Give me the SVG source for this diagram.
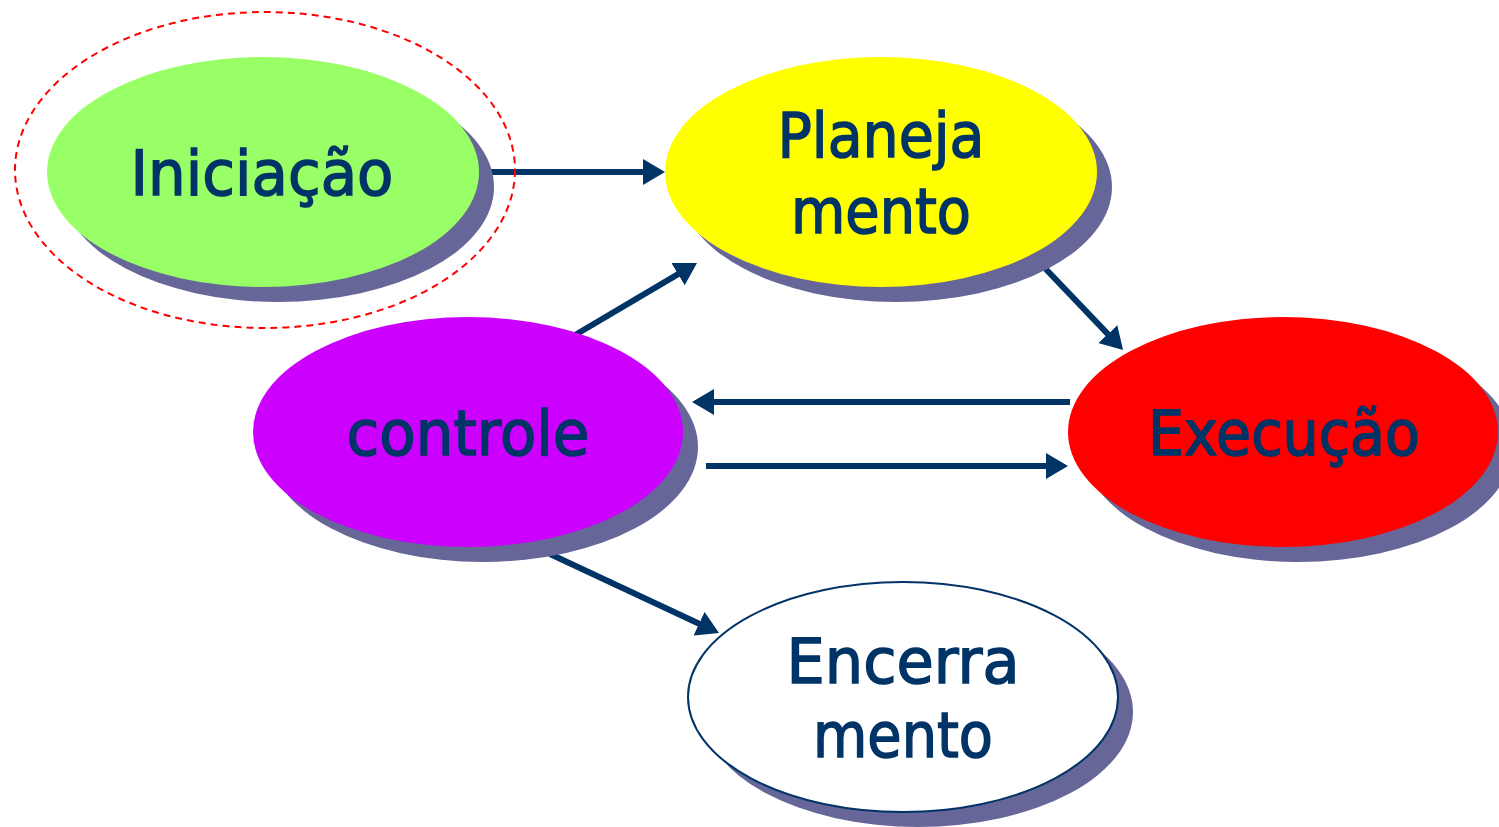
<svg xmlns="http://www.w3.org/2000/svg" width="1499" height="827" viewBox="0 0 1499 827">
  <style>
    .shadow { fill: #666699; }
    .label { font-family: "DejaVu Sans", "Liberation Sans", sans-serif; font-size: 62px; fill: #003366; stroke: #003366; stroke-width: 1.5; text-anchor: middle; }
    .conn { stroke: #003366; stroke-width: 6; fill: none; marker-end: url(#arrow); }
  </style>
  <defs>
    <marker id="arrow" viewBox="0 0 22 26" refX="6" refY="13" markerWidth="22" markerHeight="26" markerUnits="userSpaceOnUse" orient="auto">
      <path d="M0,0 L22,13 L0,26 z" fill="#003366"/>
    </marker>
  </defs>
  <rect width="1499" height="827" fill="#ffffff"/>

  <g id="connectors">
    <line class="conn" x1="480" y1="172" x2="649" y2="172"/>
    <line class="conn" x1="570" y1="338" x2="683.2" y2="271.1"/>
    <line class="conn" x1="1040" y1="263" x2="1112" y2="338.4"/>
    <line class="conn" x1="1070" y1="402" x2="708" y2="402"/>
    <line class="conn" x1="706" y1="466" x2="1052" y2="466"/>
    <line class="conn" x1="550" y1="554" x2="704.5" y2="626.2"/>
  </g>

  <g id="iniciacao">
    <ellipse class="shadow" cx="278" cy="187" rx="216" ry="115"/>
    <ellipse cx="263" cy="172" rx="216" ry="115" fill="#99FF66"/>
    <text class="label" x="262" y="195" textLength="263" lengthAdjust="spacingAndGlyphs">Iniciação</text>
  </g>
  <ellipse id="iniciacao-highlight" cx="265" cy="170" rx="250" ry="158" fill="none" stroke="#FF0000" stroke-width="2" stroke-dasharray="7,5"/>

  <g id="planejamento">
    <ellipse class="shadow" cx="896" cy="187" rx="216" ry="115"/>
    <ellipse cx="881" cy="172" rx="216" ry="115" fill="#FFFF00"/>
    <text class="label" x="881" y="157" textLength="207" lengthAdjust="spacingAndGlyphs">Planeja</text>
    <text class="label" x="881" y="233" textLength="180" lengthAdjust="spacingAndGlyphs">mento</text>
  </g>

  <g id="controle">
    <ellipse class="shadow" cx="483" cy="447" rx="215" ry="115"/>
    <ellipse cx="468" cy="432" rx="215" ry="115" fill="#CC00FF"/>
    <text class="label" x="468" y="455" textLength="243" lengthAdjust="spacingAndGlyphs">controle</text>
  </g>

  <g id="execucao">
    <ellipse class="shadow" cx="1298" cy="447" rx="215" ry="115"/>
    <ellipse cx="1283" cy="432" rx="215" ry="115" fill="#FF0000"/>
    <text class="label" x="1284" y="455" textLength="272" lengthAdjust="spacingAndGlyphs">Execução</text>
  </g>

  <g id="encerramento">
    <ellipse class="shadow" cx="918" cy="712" rx="215" ry="115"/>
    <ellipse cx="903" cy="697" rx="215" ry="115" fill="#FFFFFF" stroke="#003366" stroke-width="2"/>
    <text class="label" x="903" y="683" textLength="233" lengthAdjust="spacingAndGlyphs">Encerra</text>
    <text class="label" x="903" y="757" textLength="180" lengthAdjust="spacingAndGlyphs">mento</text>
  </g>
</svg>
